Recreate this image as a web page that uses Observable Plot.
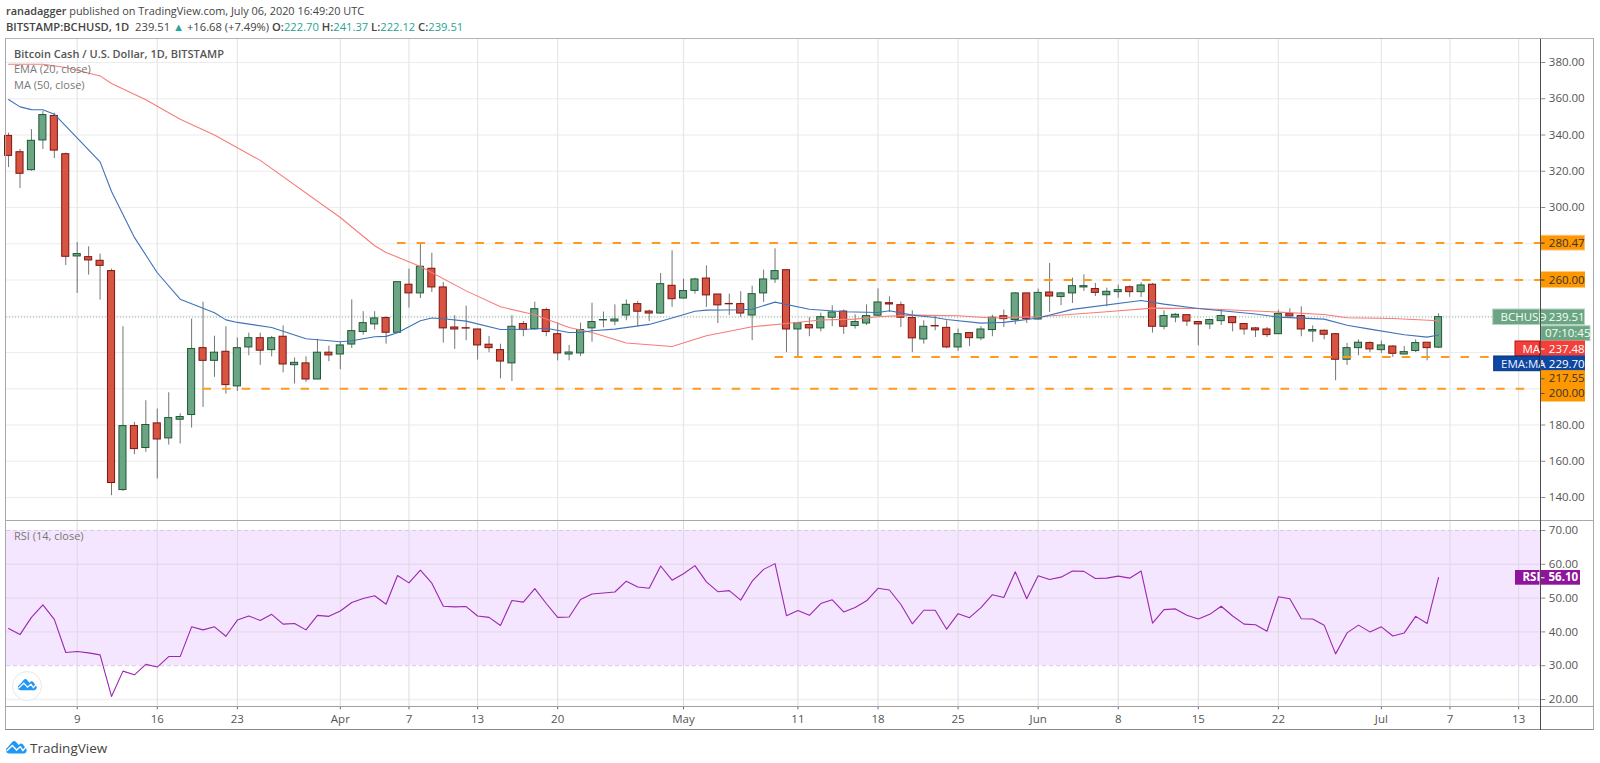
<!DOCTYPE html>
<html><head><meta charset="utf-8">
<script src="https://cdn.jsdelivr.net/npm/d3@7"></script>
<script src="https://cdn.jsdelivr.net/npm/@observablehq/plot@0.6"></script>
<style>
html,body{margin:0;padding:0;background:#fff;overflow:hidden}
#page{position:relative;width:1600px;height:763px;font-family:"Open Sans",sans-serif}
#page svg.plot{position:absolute;left:0}
.t{position:absolute;white-space:nowrap}
.box{position:absolute;pointer-events:none}
</style></head><body><div id="page"></div>
<script>
// ---- data ----
const firstDay = Date.UTC(2020, 2, 3);
const open = [339.5,330.5,320.6,337,350.5,329.4,273,272.6,270.6,264.9,
144.1,179.4,167.3,180.9,172.6,182.9,185.5,222.4,215.4,220.4,
201.3,222.8,227.9,221.3,228.7,213,214,205.1,219.9,218.9,
224.4,231.3,235.5,239,230.9,257.4,252.6,266.2,255.9,233.8,
233.4,232.7,224.3,221.3,214,235.7,232.9,243.4,230.1,218.9,
219.5,233.3,237.7,237.1,240.4,246.7,242.6,241.5,256.8,249.8,
254,260.8,252,246.8,246.7,240.4,252.6,260.3,265.4,232.7,
235.1,233.3,239.2,242.6,234.6,236,240.3,247.2,246.1,239,
227.2,234.6,233.6,222.8,230.7,227.8,232.4,240,237.9,252.6,
238.2,253.1,250.6,252.6,255.9,255,251.6,253.3,256,253.3,
257.4,234.2,239.3,240.6,236.8,235.5,237.3,239.5,235.7,233.3,
232.7,230.1,241.2,240.1,231.6,232,230.1,216,222.4,225.2,
221.3,223.3,218.9,220.8,225.4,222.7];
const close = [328.5,318.6,336.8,351,331.4,272.8,274.3,270.8,267.8,148,
179.4,166.7,180,172,183.8,184.4,221.9,215.4,219.9,202,
222.4,227.9,221,227.9,213.4,214.3,205.1,219.9,218.4,223.9,
231.8,236.2,238.8,230.9,258.8,252.6,267.3,255.9,233.3,232.7,
233.2,223.9,222.4,215,234.2,232.4,243.9,231.3,219.5,220,
232.4,236.8,237.9,238.2,246.3,242.5,241.5,257.7,249.4,253.9,
260.3,251.5,246,246.6,241.5,252.2,260.3,264.9,232.7,236.2,
233.3,239.5,242.1,234.2,236.8,240.1,247.6,246.5,239.2,227.8,
234.2,234.4,222.8,230.1,227.9,232.7,239.2,238.4,252.6,238.4,
252.9,250.9,252.6,256.6,256.6,252.9,253.5,254.4,253.3,257,
234.2,240.1,240.8,237.1,235.5,237.9,240.1,236.2,232.7,232.2,
229.6,241.2,239.9,232.7,232.4,229.8,216,222.4,225.4,221.7,
223.9,219.3,220.2,225.2,222.4,239.51];
const high = [341,332,343,353,352,330,280.7,278.3,274.3,266,
234.2,181.4,193.4,188.8,197.8,186.2,238.4,247.8,229,234.2,
228,230.7,230.7,228.9,234.7,217,217.6,227.2,223.5,225.5,
249,242.5,242.5,239.7,258.8,266,280.3,274.8,258.6,240.3,
245.6,232.8,228.9,224.6,240.3,237.1,247.8,244.5,236.4,223.9,
236.2,247.2,242.3,246.3,249,248.2,243.4,263.6,276.1,260.5,
261,267.8,252.1,252.2,253.5,256.6,265.4,277.2,265.5,236.3,
239.3,241.7,245.8,243.4,240.8,246.3,255.1,250.7,247.8,243,
237.5,240.3,237.5,232.9,230.8,234.2,240.6,243.4,253,252.7,
255,269.1,253.1,261,262.9,258.1,255.5,257.2,256.8,258.5,
258.1,243,241.5,240.6,237.1,238.4,243.4,239.7,235.7,233.8,
233.8,243.4,244.1,245.2,234.7,232.4,230.5,225,227,225.9,
226.3,223.7,223.3,227,225.4,241.37];
const low = [322,310.5,320,332,327,268,252.6,262.7,248.9,141,
143.4,163.6,164.9,150.2,168.9,169.5,178.3,189.7,206.3,197,
198.5,218.2,212.9,217.6,208.8,202.6,203.5,205,214.9,210.5,
222.2,229.6,232.4,224.6,230.5,244.5,249.8,253.1,225.2,221.7,
226.5,215.8,219.9,205.5,204,228.7,232.4,228.7,215.4,215.4,
217.8,225.7,233.6,234.7,237.5,234.2,237.1,241,244.9,249.5,
252.2,244.9,236,240.4,239.3,226.5,247.6,258.1,219.9,217.6,
228.7,231.4,234.2,230,232.9,234.9,239.7,242.1,233.8,219.9,
224.6,232,222,220.6,223.2,226.5,228.7,233.8,235.3,236,
237.9,242.1,245.8,247.1,253.7,250.9,245.2,250,250.4,250.4,
230.7,232.5,236.4,234.4,223.7,232.7,234.9,231.4,229.6,228.3,
228.3,230,239.7,228.7,225.6,227,204.4,212.9,218.2,219.9,
219.5,217.3,218.7,220,215.4,222.12];
const rsiValues = [41,39.2,44.3,48,43.7,33.9,34.2,33.8,33.2,20.9,
28.4,27.3,30.4,29.6,32.7,32.7,41.5,40.6,41.5,38.7,
43.5,44.7,43.4,45.2,42.3,42.5,40.6,44.9,44.6,46.2,
48.7,49.9,50.7,48.2,56.7,54.5,58.3,54.4,47.6,47.4,
47.5,44.7,44.3,41.9,49.3,48.8,52.8,48.4,44.3,44.4,
49.6,51.2,51.5,51.8,55,53.3,52.9,59.5,55.3,57.2,
59.6,54.8,51.9,52.2,49.4,55,58.5,60.2,44.8,46.3,
44.9,48.4,49.5,45.9,47.2,49.2,52.9,52.4,48.1,42.4,
46.4,46.4,40.8,45.4,44.2,47.2,51,50.2,57.8,49.8,
56.6,55.5,56.2,58,57.9,55.8,55.9,56.5,55.9,58,
42.6,46.6,46.8,44.9,43.8,45.2,47.6,44.7,42.3,42.1,
40.2,50.4,49.8,43.9,43.8,42,33.5,39.7,42,40,
41.5,38.8,39.7,44.6,42.5,56.1];
const emaDays = [0,1,2,3,4,8,9,11,13,15,18,19,20,23,26,29,30,32,33,34,36,37,38,40,43,44,46,47,49,50,51,53,56,58,60,61,64,65,67,70,73,76,77,79,81,82,85,86,87,90,93,99,101,104,109,111,115,117,119,122,124,125];
const emaVals = [359.6,355.5,354,353.9,351.5,325.2,308.8,283.5,264,249.4,241.9,238,236.6,233.8,227.6,225.9,226.5,228.7,228.9,230.9,237.5,239,238.6,237.3,232.7,232.7,233,233.4,231,231,232,232.9,235.5,239,242.8,243.4,243.6,243.9,247.8,243.9,242.5,242.1,243,240.6,239.3,238.2,236.2,236.4,236.6,239,243.8,248.7,246.7,244.3,241.2,239.5,238.4,235,232.9,229.8,228.5,229.7];
const maDays = [0,3,5,8,9,12,15,18,22,29,32,33,36,40,43,46,49,51,54,58,61,65,68,71,74,76,79,83,86,90,96,100,104,111,115,117,121,125];
const maVals = [379,379,377.2,372.6,368.4,359.4,348.7,340,326,294.5,278.9,275.2,267.5,254,245.2,240.8,233.8,231,225.2,223.3,229.2,234.2,236,237.9,238.4,239.7,240.6,240.3,239,239.7,242.5,244.5,244.3,242.3,241,239.2,238.8,237.48];
const levelValues = [280.47,260,217.55,200];
const levelStarts = ["2020-04-06","2020-05-12","2020-05-09","2020-03-20"];
const levelEnds = ["2020-07-15","2020-07-15","2020-07-13","2020-07-14"];
const priceTicks = d3.range(140,381,20);
const priceLabelTicks = [140,160,180,300,320,340,360,380];
const rsiTicks = [20,30,40,50,60,70];
const timeTickDates = ["2020-03-09","2020-03-16","2020-03-23","2020-04-01","2020-04-07","2020-04-13","2020-04-20","2020-05-01","2020-05-11","2020-05-18","2020-05-25","2020-06-01","2020-06-08","2020-06-15","2020-06-22","2020-07-01","2020-07-07","2020-07-13"];
const timeTickLabels = ["9","16","23","Apr","7","13","20","May","11","18","25","Jun","8","15","22","Jul","7","13"];

// ---- layout ----
const DAY = 864e5;
const dayPx = 11.44, day0Px = 76.7 - 6 * dayPx;       // x of Mar 3
const axisPx = 1540.3, leftPx = 6;
const dateAt = px => new Date(firstDay + (px - day0Px) / dayPx * DAY);
const xDomain = [dateAt(leftPx), dateAt(axisPx)];
const priceAt = py => 200 + (388.25 - py) / 1.8125;
const rsiAt = py => 70 - (py - 530) / 3.38;
const narrow = '"Liberation Sans Narrow","Open Sans",sans-serif';
const dayOf = i => new Date(firstDay + i * DAY);
const candles = open.map((o,i) => ({date:dayOf(i), x1:new Date(+dayOf(i)-0.31*DAY), x2:new Date(+dayOf(i)+0.31*DAY), open:o, close:close[i], high:high[i], low:low[i], up:close[i]>=o}));
const ema = emaDays.map((d,i)=>({date:dayOf(d), v:emaVals[i]}));
const ma = maDays.map((d,i)=>({date:dayOf(d), v:maVals[i]}));
const rsi = rsiValues.map((v,i)=>({date:dayOf(i), v}));
const levels = levelValues.map((v,i)=>({v, x1:new Date(levelStarts[i]), x2:new Date(levelEnds[i])}));
const timeTicks = timeTickDates.map(d=>new Date(d));
const timeFmt = new Map(timeTicks.map((d,i)=>[+d,timeTickLabels[i]]));

const GREEN="#6ba583",GREEN_E="#1d5a34",RED="#d75442",RED_E="#7f1410",ORANGE="#ff9800",BLUE="#0d47a1",MAR="#f23f3a";

const tags = [ // left, right, top, bottom, fill, stroke, text, text x, text color, weight
 [1540.5,1584.5,235.3,250,ORANGE,"#ffc078","280.47",1548.3,"#333",400],
 [1540.5,1584.5,272,287,ORANGE,ORANGE,"260.00",1548.3,"#333",400],
 [1492.7,1539.5,309,324.5,GREEN,"#b5d2c1","BCHUSD",1500,"#f3fff8",700],
 [1540.5,1584.5,309,324.5,GREEN,"#b5d2c1","239.51",1548.3,"#f3fff8",700],
 [1540.7,1590,325.7,340.7,GREEN,"#b5d2c1","07:10:45",1544.5,"#f3fff8",700],
 [1515,1539.5,341,356,MAR,"#c01010","MA",1522,"#fff",700],
 [1540.5,1584.5,341,356,MAR,MAR,"237.48",1548.3,"#fff",700],
 [1493.7,1539.5,356,370.7,BLUE,"#08307a","EMA:MA",1500.5,"#eef",700],
 [1540.5,1584.5,356,370.7,BLUE,BLUE,"229.70",1548.3,"#fff",700],
 [1540.5,1584.5,370.7,401,ORANGE,ORANGE,"",1548.3,"#333",400]
];
const tagData = tags.map(t=>({x1:dateAt(t[0]),x2:dateAt(t[1]),y1:priceAt(t[3]),y2:priceAt(t[2]),fill:t[4],stroke:t[5],text:t[6],tx:dateAt(t[7]),ty:priceAt((t[2]+t[3])/2),color:t[8],weight:t[9]}));
const tag2 = [{text:"217.55",tx:dateAt(1548.3),ty:priceAt(378.3)},{text:"200.00",tx:dateAt(1548.3),ty:priceAt(393)}];
const tagTicks = [[242.6,"#333"],[279.5,"#333"],[316.8,"#f3fff8"],[348.5,"#fff"],[363.3,"#fff"],[378.3,"#555"],[393,"#555"]].map(([p,c])=>({y:priceAt(p),c}));

const main = Plot.plot({
  width:1600,height:520,marginLeft:leftPx,marginRight:1600-axisPx,marginTop:38.7,marginBottom:0,
  style:{background:"transparent",fontFamily:narrow,fontSize:"12px",overflow:"visible"},
  x:{type:"utc",domain:xDomain,axis:null},
  y:{domain:[priceAt(520),priceAt(38.7)],axis:null},
  marks:[
    Plot.ruleY(priceTicks,{stroke:"#ececec",strokeWidth:1.2}),
    Plot.ruleX(timeTicks,{stroke:"#e6e6e6",strokeWidth:1.2}),
    Plot.ruleY([close[close.length-1]],{x1:xDomain[0],x2:dateAt(1492.7),stroke:GREEN,strokeDasharray:"1,2",strokeWidth:1,strokeOpacity:.7}),
    Plot.ruleX(candles,{x:"date",y1:"low",y2:"high",stroke:"#757575",strokeWidth:1}),
    Plot.rect(candles,{x1:"x1",x2:"x2",y1:"open",y2:"close",fill:d=>d.up?GREEN:RED,stroke:d=>d.up?GREEN_E:RED_E,strokeWidth:1}),
    Plot.line(ma,{x:"date",y:"v",stroke:"#f77c7a",strokeWidth:1.1}),
    Plot.line(ema,{x:"date",y:"v",stroke:"#3f72b8",strokeWidth:1.1}),
    Plot.ruleY(levels,{y:"v",x1:"x1",x2:"x2",stroke:"#ff9a1f",strokeWidth:2,strokeDasharray:"8.5,11.1"}),
    Plot.axisY(priceLabelTicks,{anchor:"right",tickSize:4,tickPadding:4,tickFormat:d=>d.toFixed(2),stroke:"#888",fill:"#555",fontSize:11.5,label:null}),
    Plot.rect(tagData,{x1:"x1",x2:"x2",y1:"y1",y2:"y2",fill:"fill",stroke:"stroke",strokeWidth:1}),
    Plot.ruleY(tagTicks,{y:"y",x1:dateAt(1540.5),x2:dateAt(1544.5),stroke:"c",strokeWidth:1}),
    Plot.text(tagData,{x:"tx",y:"ty",text:"text",fill:"color",textAnchor:"start",fontSize:11.5,fontWeight:"weight"}),
    Plot.text(tag2,{x:"tx",y:"ty",text:"text",fill:"#333",textAnchor:"start",fontSize:11.5})
  ]
});
main.style.top="0px";

const rsiPlot = Plot.plot({
  width:1600,height:210,marginLeft:leftPx,marginRight:1600-axisPx,marginTop:0,marginBottom:23.7,
  style:{background:"transparent",fontFamily:narrow,fontSize:"12px",overflow:"visible"},
  x:{type:"utc",domain:xDomain,axis:null},
  y:{domain:[rsiAt(706.3),rsiAt(520)],axis:null},
  marks:[
    Plot.rect([{y1:30,y2:70}],{x1:xDomain[0],x2:xDomain[1],y1:"y1",y2:"y2",fill:"#f4e6fe"}),
    Plot.ruleY(rsiTicks.filter(d=>d>30&&d<70),{stroke:"#e8d8f0",strokeWidth:1.4}),
    Plot.ruleY([20],{stroke:"#f0f0f0",strokeWidth:1.6}),
    Plot.ruleY([30,70],{stroke:"#dcc6e4",strokeWidth:1,strokeDasharray:"4,3"}),
    Plot.ruleX(timeTicks,{stroke:"#dfd8e4",strokeWidth:1}),
    Plot.line(rsi,{x:"date",y:"v",stroke:"#9c27b0",strokeWidth:1.1}),
    Plot.axisY(rsiTicks,{anchor:"right",tickSize:4,tickPadding:4,tickFormat:d=>d.toFixed(2),stroke:"#888",fill:"#555",fontSize:11.5,label:null}),
    Plot.axisX(timeTicks,{anchor:"bottom",tickSize:3,tickPadding:5,tickFormat:d=>timeFmt.get(+d),stroke:"#666",fill:"#555",fontSize:11.5,label:null}),
    Plot.rect([{a:dateAt(1515),b:dateAt(1539.5)},{a:dateAt(1540.5),b:dateAt(1580)}],{x1:"a",x2:"b",y1:rsiAt(584.7),y2:rsiAt(570),fill:"#8e1599"}),
    Plot.ruleY([rsiAt(577.3)],{x1:dateAt(1540.5),x2:dateAt(1544.5),stroke:"#fff",strokeWidth:1}),
    Plot.text([{t:"RSI",x:dateAt(1522)},{t:rsiValues[rsiValues.length-1].toFixed(2),x:dateAt(1548)}],{x:"x",y:rsiAt(577.3),text:"t",fill:"#fff",textAnchor:"start",fontSize:11.5,fontWeight:700})
  ]
});
rsiPlot.style.top="520px";

const page = document.getElementById("page");
page.append(main,rsiPlot);

function box(l,t,w,h,css){const d=document.createElement("div");d.className="box";d.style.cssText=`left:${l}px;top:${t}px;width:${w}px;height:${h}px;${css}`;page.append(d);}
// chart frame, pane separators and price-axis line
box(5,38,1589,692,"box-sizing:border-box;border:1.5px solid #a8a8a8;border-top-color:#b4b4b4;border-bottom-color:#8a8a8a");
box(5,519.5,1589,1.5,"background:#aaa");
box(5,705.8,1589,1.5,"background:#a0a0a0");
box(1540,38.5,1,691.5,"background:#4a4a4a");

function txt(s,l,t,css){const d=document.createElement("div");d.className="t";d.style.cssText=`left:${l}px;top:${t}px;${css}`;d.innerHTML=s;page.append(d);}
const teal='<span style="color:#2aa38f">';
txt('<b style="font-weight:600">ranadagger</b> published on TradingView.com, July 06, 2020 16:49:20 UTC',6,3,'font-size:10.9px;line-height:16px;color:#444');
txt(`<b style="font-weight:600">BITSTAMP:BCHUSD, 1D</b>&nbsp; 239.51 <span style="color:#26a69a">▲</span> +16.68 (+7.49%) <b style="font-weight:600">O:</b>${teal}222.70</span> <b style="font-weight:600">H:</b>${teal}241.37</span> <b style="font-weight:600">L:</b>${teal}222.12</span> <b style="font-weight:600">C:</b>${teal}239.51</span>`,6,18.5,'font-size:11.2px;line-height:16px;color:#444');
txt('Bitcoin Cash / U.S. Dollar, 1D, BITSTAMP',14,46,'font-size:11px;line-height:16px;color:#555;font-weight:600');
txt('EMA (20, close)',14,61,'font-size:11px;line-height:16px;color:#777');
txt('MA (50, close)',14,76.5,'font-size:11px;line-height:16px;color:#777');
txt('RSI (14, close)',14,527.5,'font-size:11px;line-height:16px;color:#777');
txt('TradingView',30,738.5,'font-size:13.5px;line-height:18px;color:#444');

const logo=(x,y,w,h)=>`<svg style="position:absolute;left:${x}px;top:${y}px" width="${w}" height="${h}" viewBox="0 0 36 24"><path d="M5 23 A5.5 5.5 0 0 1 3 12.5 L11 3 Q14 0 17 3 L21.5 8.5 L24 6.5 Q26.5 5 28.5 7 L33 13 A5.5 5.5 0 0 1 31 23 Z" fill="#2196f3"/><path d="M1 19 L11 9.5 L18 17 L24.5 11.5 L29 18 L35 11" fill="none" stroke="#fff" stroke-width="2.4"/></svg>`;
const wrap=document.createElement("div");
wrap.innerHTML=`<svg style="position:absolute;left:10px;top:669px" width="34" height="34"><circle cx="17" cy="17" r="14.5" fill="#fff" stroke="#e8e8e8" stroke-width="1"/></svg>`+logo(18,678,19,13)+logo(5,739.5,23,14);
page.append(wrap);
</script></body></html>
